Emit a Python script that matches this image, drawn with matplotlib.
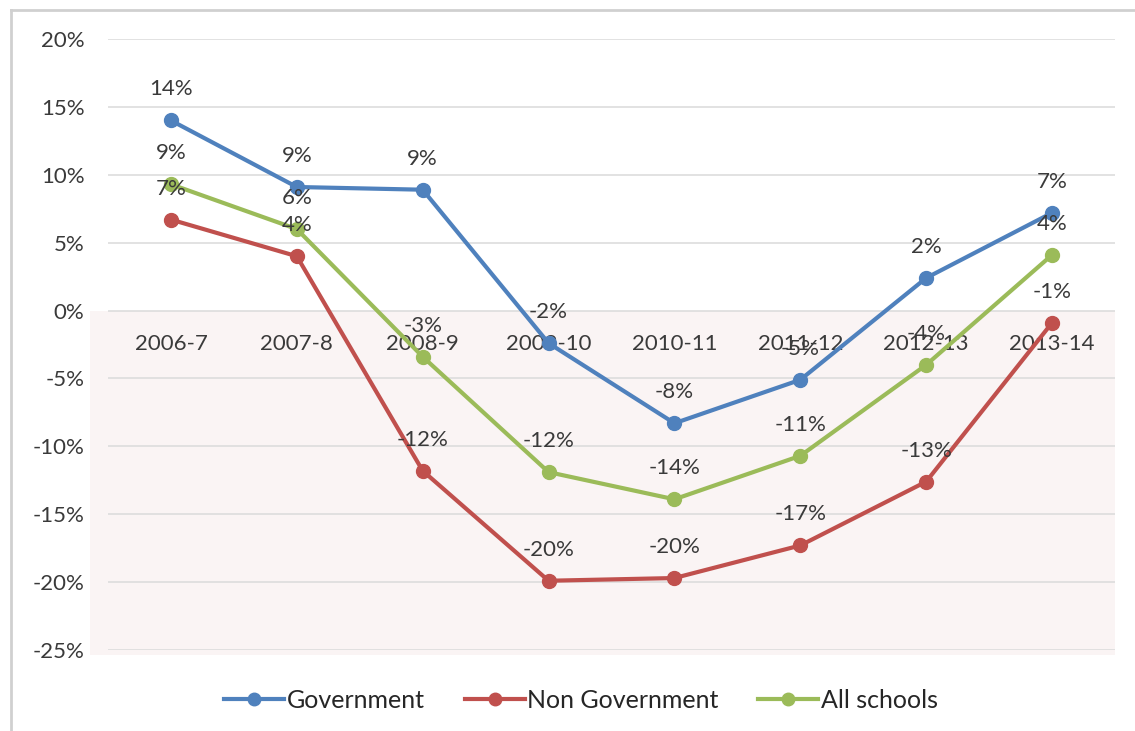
import matplotlib
matplotlib.use("Agg")
import matplotlib.pyplot as plt
from matplotlib.lines import Line2D

# ── Data ────────────────────────────────────────────────────
years = ["2006-7", "2007-8", "2008-9", "2009-10", "2010-11",
         "2011-12", "2012-13", "2013-14"]
government = [0.140, 0.091, 0.089, -0.024, -0.083, -0.051, 0.024, 0.072]
non_government = [0.067, 0.040, -0.118, -0.199, -0.197, -0.173, -0.126, -0.009]
all_schools = [0.093, 0.060, -0.034, -0.119, -0.139, -0.107, -0.040, 0.041]
yticks = [0.20, 0.15, 0.10, 0.05, 0.0, -0.05, -0.10, -0.15, -0.20, -0.25]

# ── Style ───────────────────────────────────────────────────
BLUE  = "#4F81BD"
RED   = "#C0504D"
GREEN = "#9BBB59"
TEXT  = "#3A3A3A"
GRID  = "#DDDDDD"
SHADE = "#FAF4F4"
FONT  = "Lato"
FS    = 16

plt.rcParams["font.family"] = FONT

fig = plt.figure(figsize=(11.35, 7.31), dpi=100, facecolor="white")
W, H = 1135, 731
ax = fig.add_axes([108 / W, 1 - 650 / H, (1115 - 108) / W, (650 - 39) / H])
ax.set_facecolor("white")

x = list(range(len(years)))
ax.set_xlim(-0.5, len(years) - 0.5)
ax.set_ylim(-0.25, 0.20)

# shaded negative region (extends a bit left of the grid)
ax.axhspan(-0.254, 0, xmin=-0.018, xmax=1, color=SHADE, lw=0,
           clip_on=False, zorder=0)

for v in yticks:
    ax.axhline(v, color=GRID, lw=1.2, zorder=1)

ax.set_yticks(yticks)
ax.set_yticklabels([f"{v:.0%}" for v in yticks], fontsize=FS, color=TEXT)
ax.set_xticks([])
ax.tick_params(axis="y", length=0, pad=17)
for s in ax.spines.values():
    s.set_visible(False)

# category labels sit just under the zero line
for xi, lab in zip(x, years):
    ax.annotate(lab, (xi, 0), xytext=(0, -33), textcoords="offset pixels",
                ha="center", va="center", fontsize=FS, color=TEXT, zorder=2)

series = [
    ("Government", government, BLUE),
    ("Non Government", non_government, RED),
    ("All schools", all_schools, GREEN),
]
for name, vals, col in series:
    ax.plot(x, vals, color=col, lw=3, marker="o", markersize=10,
            label=name, zorder=4)
for name, vals, col in series:
    for xi, v in zip(x, vals):
        ax.annotate(f"{v:.0%}", (xi, v), xytext=(0, 31),
                    textcoords="offset pixels", ha="center", va="center",
                    fontsize=FS, color=TEXT, zorder=5)

leg = fig.legend(loc="center", bbox_to_anchor=(581 / W, 1 - 700 / H),
                 ncol=3, frameon=False, fontsize=18, handlelength=2.4,
                 handletextpad=0.1, columnspacing=1.6, markerscale=0.9)
for t in leg.get_texts():
    t.set_color("#262626")

# outer chart frame
fig.add_artist(Line2D([11 / W, 11 / W], [0, 1 - 10 / H], color="#D0D0D0",
                      lw=2, transform=fig.transFigure))
fig.add_artist(Line2D([11 / W, 1], [1 - 10 / H, 1 - 10 / H], color="#D0D0D0",
                      lw=2, transform=fig.transFigure))

fig.savefig("out.png", dpi=100, facecolor="white")
